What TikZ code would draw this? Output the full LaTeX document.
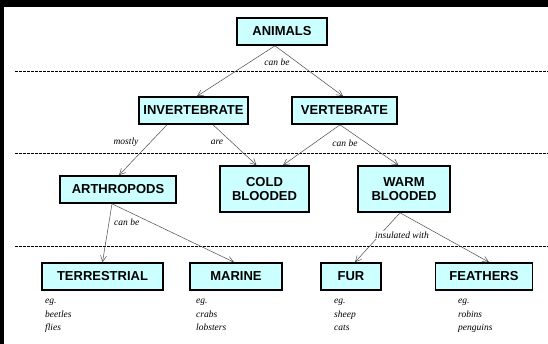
\documentclass[tikz,border=0pt]{standalone}
\usepackage{fontspec}
\setmainfont{Liberation Sans}
\newfontfamily\notefont{Liberation Serif}
\usetikzlibrary{arrows.meta,positioning}
\definecolor{conceptfill}{HTML}{CCFFFF}

\begin{document}
\begin{tikzpicture}[
    x=1pt, y=-1pt,
    >={Straight Barb[length=6pt,width=6pt]},
    concept/.style={draw, line width=1.6pt, fill=conceptfill, inner sep=0pt, align=center, minimum height=27pt, font=\bfseries\fontsize{13}{14.5}\selectfont},
    link/.style={->, draw=black!70, line width=0.5pt},
    linklabel/.style={fill=white, inner sep=1pt, font=\notefont\itshape\fontsize{9.5}{11}\selectfont},
    examples/.style={anchor=north west, align=left, inner sep=0pt, font=\notefont\itshape\fontsize{9.5}{13.5}\selectfont},
    rowline/.style={dash pattern=on 2.5pt off 1.5pt, line width=0.5pt}
]
\useasboundingbox (0,0) rectangle (548,344);
\fill[white] (0,0) rectangle (548,344);
\fill[black] (0,0) rectangle (548,7.5);
\fill[black] (0,0) rectangle (4,344);

% level separators
\draw[rowline] (15,71) -- (548,71);
\draw[rowline] (15,153) -- (548,153);
\draw[rowline] (15,246) -- (548,246);

% concepts
\node[concept, minimum width=90pt] (animals) at (282,31.5) {ANIMALS};
\node[concept, minimum width=109pt] (invert) at (193.5,110.5) {INVERTEBRATE};
\node[concept, minimum width=105pt] (vert) at (344.5,110.5) {VERTEBRATE};
\node[concept, minimum width=116pt] (arthro) at (118,189.5) {ARTHROPODS};
\node[concept, minimum width=89pt, minimum height=46pt] (cold) at (264.5,189) {COLD\\BLOODED};
\node[concept, minimum width=92pt, minimum height=46pt] (warm) at (404,189) {WARM\\BLOODED};
\node[concept, minimum width=121pt] (terr) at (102.5,276.5) {TERRESTRIAL};
\node[concept, minimum width=92pt] (marine) at (236,276.5) {MARINE};
\node[concept, minimum width=60pt] (fur) at (351,276.5) {FUR};
\node[concept, minimum width=97pt] (feathers) at (484,276.5) {FEATHERS};

% links
\draw[link] ([xshift=-7pt]animals.south) -- ([xshift=3.5pt]invert.north);
\draw[link] ([xshift=-7pt]animals.south) -- ([xshift=-1.5pt]vert.north);
\draw[link] ([xshift=-26.5pt]invert.south) -- ([xshift=1pt]arthro.north);
\draw[link] ([xshift=19.5pt]invert.south) -- ([xshift=-8pt]cold.north);
\draw[link] ([xshift=-4.5pt]vert.south) -- ([xshift=18.5pt]cold.north);
\draw[link] ([xshift=-4.5pt]vert.south) -- ([xshift=-5.5pt]warm.north);
\draw[link] ([xshift=-6pt]arthro.south) -- (terr.north);
\draw[link] ([xshift=-6pt]arthro.south) -- ([xshift=-2pt]marine.north);
\draw[link] ([xshift=-4pt]warm.south) -- ([xshift=4pt]fur.north);
\draw[link] ([xshift=-4pt]warm.south) -- ([xshift=5pt]feathers.north);

% link labels
\node[linklabel] (l1) at (277,62) {can be};
\node[linklabel] (l2) at (126,142) {mostly};
\node[linklabel] (l3) at (217,142) {are};
\node[linklabel] (l4) at (345,143) {can be};
\node[linklabel, anchor=west] (l5) at (113,222) {can be};
\node[linklabel] (l6) at (402,235) {insulated with};

% examples
\node[examples] (ex1) at (45,299) {eg.\\beetles\\flies};
\node[examples] (ex2) at (196,299) {eg.\\crabs\\lobsters};
\node[examples] (ex3) at (334,299) {eg.\\sheep\\cats};
\node[examples] (ex4) at (458,299) {eg.\\robins\\penguins};
\end{tikzpicture}
\end{document}
